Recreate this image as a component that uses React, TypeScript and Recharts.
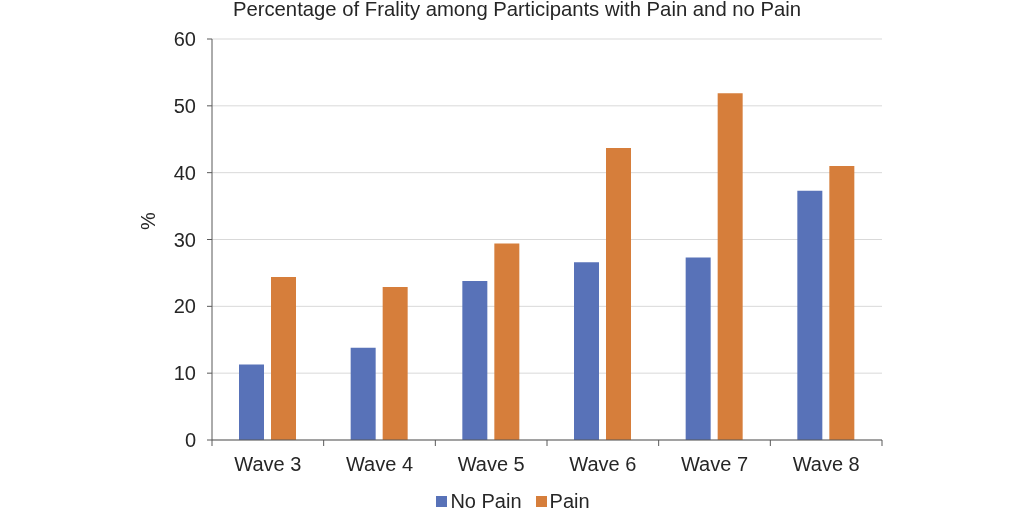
import { BarChart, Bar, XAxis, YAxis, CartesianGrid, Legend } from "recharts";

const waves = ["Wave 3", "Wave 4", "Wave 5", "Wave 6", "Wave 7", "Wave 8"];
const noPain = [11.3, 13.8, 23.8, 26.6, 27.3, 37.3];
const pain = [24.4, 22.9, 29.4, 43.7, 51.9, 41.0];
const yTicks = [0, 10, 20, 30, 40, 50, 60];

const blue = "#5872B8";
const orange = "#D67E3B";
const axisColor = "#595959";
const textColor = "#262626";
const font = "'Liberation Sans', Arial, sans-serif";

const W = 1024;
const H = 512;
const plotLeft = 212;
const plotRight = 882;
const band = (plotRight - plotLeft) / waves.length;

const data = waves.map((w, i) => ({ wave: w, noPain: noPain[i], pain: pain[i] }));

// category ticks sit between the groups, labels stay centred
function WaveTick(props: any) {
  const { x, y, payload, index } = props;
  const left = x - band / 2;
  const isLast = index === waves.length - 1;
  return (
    <g>
      <line x1={left} x2={left} y1={y - 8} y2={y - 2} stroke={axisColor} />
      {isLast && <line x1={x + band / 2} x2={x + band / 2} y1={y - 8} y2={y - 2} stroke={axisColor} />}
      <text x={x} y={y + 23} textAnchor="middle" fill={textColor} fontSize={20} fontFamily={font}>
        {payload.value}
      </text>
    </g>
  );
}

function LegendBox() {
  const items = [
    { label: "No Pain", color: blue },
    { label: "Pain", color: orange },
  ];
  return (
    <div style={{ display: "flex", justifyContent: "center", gap: 14, fontFamily: font, fontSize: 20, color: textColor, height: 22, alignItems: "center", paddingLeft: 2 }}>
      {items.map((it) => (
        <span key={it.label} style={{ display: "flex", alignItems: "center" }}>
          <span style={{ width: 11, height: 11, background: it.color, display: "inline-block", marginRight: 3 }} />
          {it.label}
        </span>
      ))}
    </div>
  );
}

export default function App() {
  return (
    <div style={{ position: "fixed", top: 0, left: 0, width: W, height: H, background: "#fff" }}>
      <div
        style={{
          position: "absolute",
          top: -1,
          left: 0,
          width: 1034,
          textAlign: "center",
          fontFamily: font,
          fontSize: 20.3,
          color: textColor,
          lineHeight: "20px",
        }}
      >
        Percentage of Frality among Participants with Pain and no Pain
      </div>
      <BarChart
        width={W}
        height={H}
        data={data}
        margin={{ top: 39, right: W - plotRight, bottom: 0, left: 0 }}
        barCategoryGap="24%"
        barGap={7}
      >
        <CartesianGrid vertical={false} stroke="#d9d9d9" />
        <XAxis
          dataKey="wave"
          height={50}
          tickLine={false}
          axisLine={{ stroke: axisColor }}
          tick={<WaveTick />}
          interval={0}
        />
        <YAxis
          width={plotLeft}
          domain={[0, 60]}
          ticks={yTicks}
          interval={0}
          tickSize={5}
          tickMargin={11}
          tick={{ fill: textColor, fontSize: 20, fontFamily: font }}
          axisLine={{ stroke: axisColor }}
          tickLine={{ stroke: axisColor }}
          label={{
            content: () => (
              <text x={148} y={221} transform="rotate(-90 148 221)" textAnchor="middle" dominantBaseline="central" fill={textColor} fontSize={20} fontFamily={font}>
                %
              </text>
            ),
          }}
        />
        <Legend verticalAlign="bottom" wrapperStyle={{ left: 0, width: W }} content={() => <LegendBox />} />
        <Bar dataKey="noPain" name="No Pain" fill={blue} barSize={25} isAnimationActive={false} />
        <Bar dataKey="pain" name="Pain" fill={orange} barSize={25} isAnimationActive={false} />
      </BarChart>
    </div>
  );
}
